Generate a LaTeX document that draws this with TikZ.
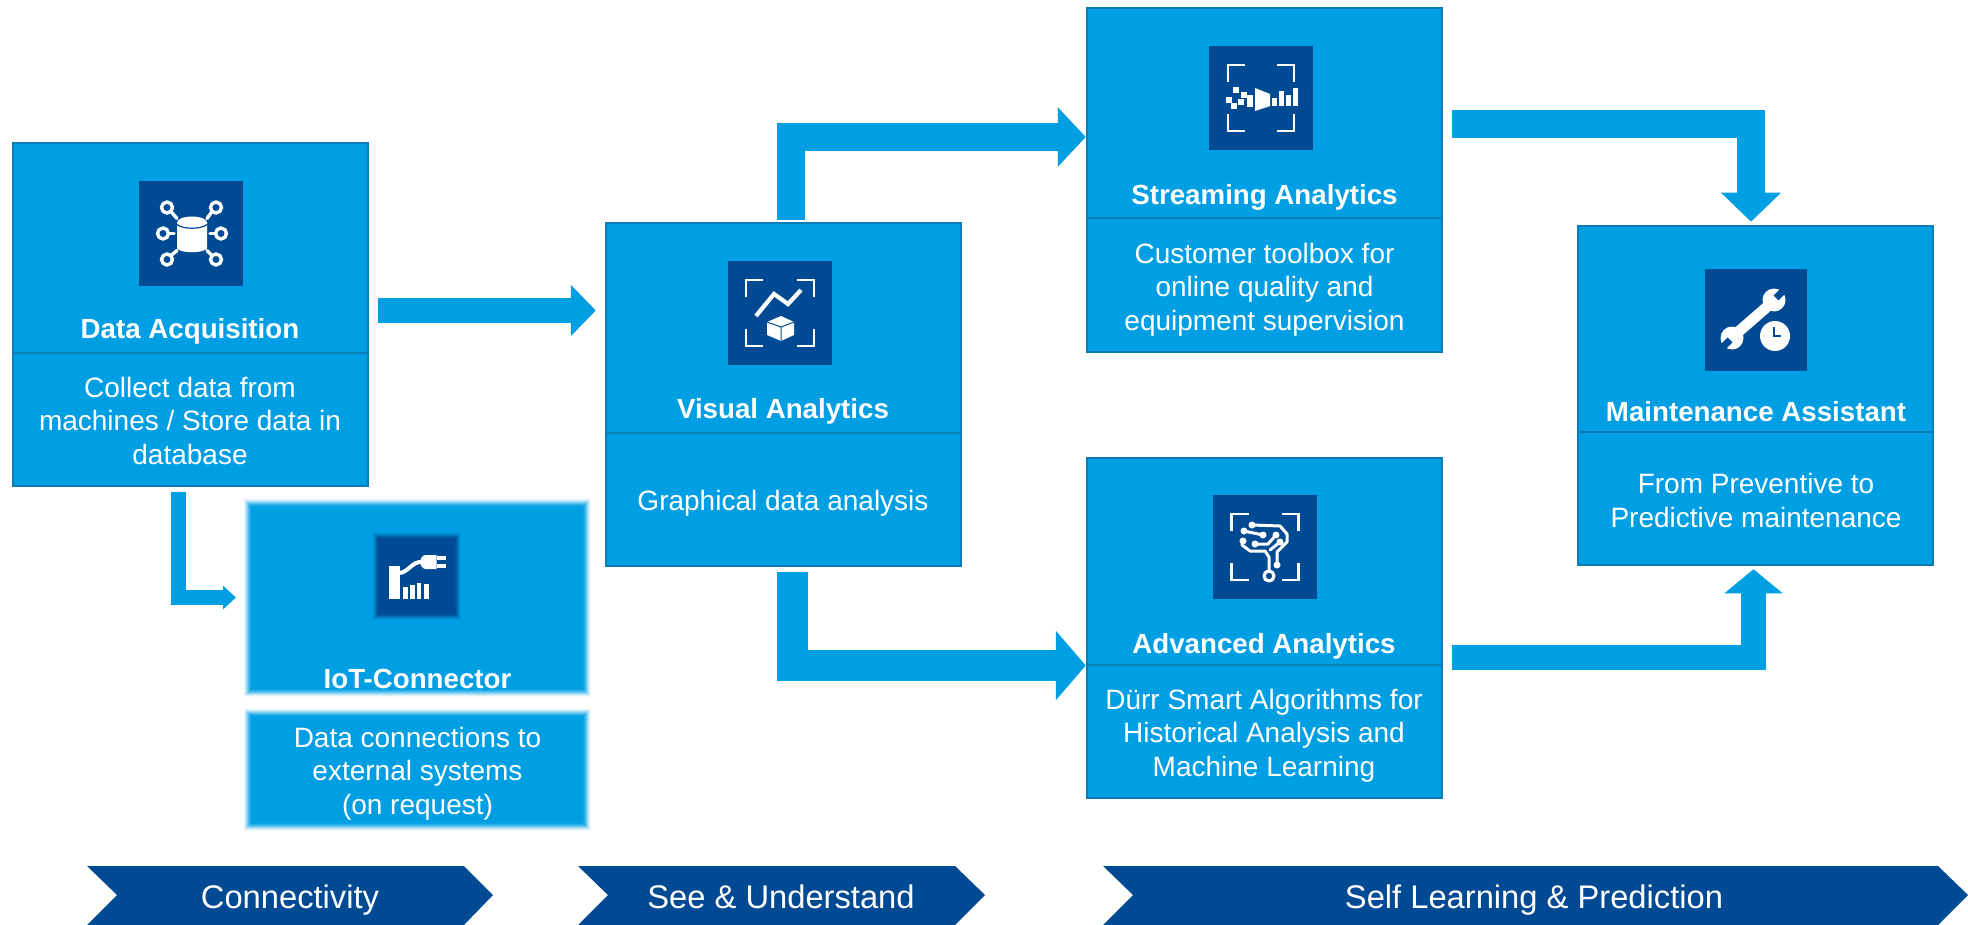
\documentclass[tikz,border=0pt]{standalone}
\usepackage{fontspec}
\setmainfont{Liberation Sans}
\usetikzlibrary{arrows.meta,calc}
\definecolor{ibox}{HTML}{009FE3}
\definecolor{idark}{HTML}{004A93}
\definecolor{iedge}{HTML}{0B7DB6}
\tikzset{
  mainbox/.style={draw=iedge,line width=.9pt,fill=ibox,minimum width=177.75pt,inner sep=0pt,outer sep=0pt},
  softbox/.style={fill=ibox,inner sep=0pt,outer sep=0pt},
  divider/.style={draw=iedge,line width=.9pt},
  iconbox/.style={fill=idark,inner sep=0pt,outer sep=0pt,minimum size=52pt},
  softicon/.style={fill=idark,inner sep=0pt,outer sep=0pt,minimum size=37.5pt},
  ttl/.style={font=\fontsize{13.85}{16.75}\selectfont\bfseries,text=white,anchor=base,inner sep=0pt},
  bodytxt/.style={font=\fontsize{14}{16.75}\selectfont,text=white,anchor=base,inner sep=0pt,align=center},
  chevtxt/.style={font=\fontsize{16.35}{18}\selectfont,text=white,anchor=base,inner sep=0pt},
  flow/.style={draw=ibox,line join=miter},
  ic/.style={draw=white,line width=1.7pt,line cap=round,line join=round},
  trace/.style={draw=white,line width=1.5pt,line cap=round,line join=round},
  brk/.style={draw=white,line width=1.25pt,line cap=butt,line join=miter},
}
\newcommand{\brackets}[2]{%
  \draw[brk] (-#1+17,-#2) -- (-#1,-#2) -- (-#1,-#2+17);
  \draw[brk] (#1-17,-#2) -- (#1,-#2) -- (#1,-#2+17);
  \draw[brk] (-#1+17,#2) -- (-#1,#2) -- (-#1,#2-17);
  \draw[brk] (#1-17,#2) -- (#1,#2) -- (#1,#2-17);
}
\begin{document}
\begin{tikzpicture}[x=0.5pt,y=-0.5pt]
\useasboundingbox (0,0) rectangle (1968,925);
\fill[white] (0,0) rectangle (1968,925);

% main boxes
\node[mainbox,minimum height=171.75pt] (da) at (190.5,314.5) {};
\node[mainbox,minimum height=171.75pt] (va) at (783.5,394.5) {};
\node[mainbox,minimum height=172.25pt] (sa) at (1264.5,180) {};
\node[mainbox,minimum height=170.25pt] (aa) at (1264.5,628) {};
\node[mainbox,minimum height=169.75pt] (ma) at (1755.5,395.5) {};
\draw[divider] ($(da.west)+(0,38.5)$) -- ($(da.east)+(0,38.5)$);
\draw[divider] ($(va.west)+(0,38.5)$) -- ($(va.east)+(0,38.5)$);
\draw[divider] ($(sa.west)+(0,38)$) -- ($(sa.east)+(0,38)$);
\draw[divider] ($(aa.west)+(0,37)$) -- ($(aa.east)+(0,37)$);
\draw[divider] ($(ma.west)+(0,36.5)$) -- ($(ma.east)+(0,36.5)$);

% blurred IoT boxes
\foreach \e [evaluate=\e as \c using {50-50*sin(\e*18)}] in {5,4.5,...,-5}{
  \fill[ibox!\c!white] (247-\e,502-\e) rectangle (587+\e,693+\e);
  \fill[ibox!\c!white] (247-\e,712-\e) rectangle (587+\e,827+\e);
}
\node[softbox,minimum width=165pt,minimum height=90.5pt] (it) at (417,597.5) {};
\node[softbox,minimum width=165pt,minimum height=52.5pt] (ib) at (417,769.5) {};

% icon tiles
\node[iconbox] (ic1) at (191,233.5) {};
\node[iconbox] (ic2) at (780,313) {};
\node[iconbox] (ic3) at (1261,98) {};
\node[iconbox] (ic4) at (1265,547) {};
\node[iconbox,minimum size=51pt] (ic5) at (1756,320) {};
\foreach \e [evaluate=\e as \c using {50-50*sin(\e*22.5)}] in {4,3.5,...,-4}{
  \fill[idark!\c!ibox] (375-\e,535-\e) rectangle (458+\e,617+\e);
}
\node[softicon] (ic6) at (416.5,576) {};

% icon 1: database
\begin{scope}[shift={(ic1.center)}]
  \fill[white] (-14,-11) -- (-14,15) .. controls (-10,20) and (12,20) .. (16,15) -- (16,-11) -- cycle;
  \fill[white] (1,-11) ellipse [x radius=15,y radius=6];
  \draw[idark,line width=.6pt] (-14,-9) .. controls (-8,-4) and (10,-4) .. (16,-9);
  \foreach \p/\q in {-24/-26,25/-26,-24/26,25/26}{
    \draw[ic] (\p,\q) circle [radius=5.5];
  }
  \draw[ic] (-28,0) circle [radius=5.5];
  \draw[ic] (30,0) circle [radius=5.5];
  \draw[ic] (-20,-22) -- (-14,-15);
  \draw[ic] (21,-22) -- (16,-15);
  \draw[ic] (-20,22) -- (-14,17);
  \draw[ic] (21,22) -- (16,17);
  \draw[ic] (-22,0) -- (-17,0);
  \draw[ic] (24,0) -- (19,0);
\end{scope}

% icon 2: chart and cube
\begin{scope}[shift={(ic2.center)}]
  \brackets{34}{33}
  \draw[ic,line width=2.1pt,line join=miter,line cap=butt] (-24,3) -- (-6,-19) -- (8,-9) -- (21,-23);
  \fill[white] (1,3) -- (14,9) -- (14,22) -- (1,28) -- (-13,22) -- (-13,9) -- cycle;
  \draw[idark,line width=.5pt] (-13,9) -- (1,14) -- (14,9) (1,14) -- (1,28);
\end{scope}

% icon 3: streaming
\begin{scope}[shift={(ic3.center)}]
  \brackets{33}{33}
  \foreach \p/\q in {-25/-8,-17/-3,-32/2,-11/0,-20/4,-27/8,-11/6}{
    \fill[white] (\p-2.7,\q-2.7) rectangle (\p+2.7,\q+2.7);
  }
  \fill[white] (-6,-10) -- (9,-4) -- (9,8) -- (-6,13) -- cycle;
  \fill[white] (11,0) rectangle (15.5,8);
  \fill[white] (18,-7) rectangle (23,8);
  \fill[white] (25,-3) rectangle (30,8);
  \fill[white] (32,-10) rectangle (37,8);
\end{scope}

% icon 4: circuit brain
\begin{scope}[shift={(ic4.center)}]
  \brackets{33.5}{33}
  \draw[trace] (-13,-22) -- (15,-21) -- (22,-13) -- (22,-5) -- (12,5) -- (12,18);
  \draw[trace] (-21,-16) -- (-2,-12);
  \draw[trace] (-22,-6) -- (-23,-2) -- (-15,4) -- (0,4) -- (4,10) -- (4,24);
  \draw[trace] (-10,-3) -- (3,-3) -- (11,-12);
  \draw[trace] (5,3) -- (15,-5);
  \foreach \p/\q in {-13/-22,-21/-16,-2/-12,-22/-6,-10/-3,11/-12,15/-5,12/18}{
    \fill[white] (\p,\q) circle [radius=3.5];
  }
  \draw[trace,line width=1.6pt] (4,29) circle [radius=5];
\end{scope}

% icon 5: wrench and clock
\begin{scope}[shift={(ic5.center)}]
  \draw[white,line width=5.4pt,line cap=butt] (12,-14) -- (-19,13);
  \fill[white] (18,-20) circle [radius=11.5];
  \fill[white] (-24,18) circle [radius=11.5];
  \draw[idark,line width=3.4pt,line cap=butt] (20,-22) -- (32,-34);
  \draw[idark,line width=3.4pt,line cap=butt] (-26,20) -- (-38,32);
  \fill[idark] (19,16) circle [radius=17];
  \fill[white] (19,16) circle [radius=15];
  \draw[idark,line width=.9pt,line join=miter] (18,7) -- (18,16) -- (25,16);
\end{scope}

% icon 6: plug and bars
\begin{scope}[shift={(ic6.center)}]
  \fill[white] (-28,-10) rectangle (-17,23);
  \draw[white,line width=2pt] (-18,-3) .. controls (-8,-3) and (-5,-15) .. (6,-14);
  \fill[white] (9,-21) -- (20,-21) -- (20,-7) -- (9,-7) .. controls (2,-8) and (2,-20) .. (9,-21) -- cycle;
  \fill[white] (20,-20) rectangle (29,-16);
  \fill[white] (20,-12) rectangle (29,-8);
  \fill[white] (-14,11) rectangle (-9,23);
  \fill[white] (-7,9) rectangle (-2,23);
  \fill[white] (0,7) rectangle (4,23);
  \fill[white] (7,8) rectangle (12,23);
\end{scope}

% titles and bodies
\node[ttl] (dat) at (190,338.5) {Data Acquisition};
\node[bodytxt] (dab) at (190,464) {Collect data from\\machines / Store data in\\database};
\node[ttl] (vat) at (783,418.5) {Visual Analytics};
\node[bodytxt] (vab) at (783,510) {Graphical data analysis};
\node[ttl] (sat) at (1264.5,204.5) {Streaming Analytics};
\node[bodytxt] (sab) at (1264.5,330) {Customer toolbox for\\online quality and\\equipment supervision};
\node[ttl] (aat) at (1264,653.5) {Advanced Analytics};
\node[bodytxt] (aab) at (1264,776) {Dürr Smart Algorithms for\\Historical Analysis and\\Machine Learning};
\node[ttl] (mat) at (1756,421.5) {Maintenance Assistant};
\node[bodytxt] (mab) at (1756,527) {From Preventive to\\Predictive maintenance};
\node[ttl] (itt) at (417.5,688.5) {IoT-Connector};
\node[bodytxt] (itb) at (417.5,814) {Data connections to\\external systems\\(on request)};

% connectors
\draw[flow,line width=12.5pt,-{Triangle[length=12.5pt,width=25pt]}]
  ($(da.east)+(10,-4)$) -- ($(va.west)+(-10,-84)$);
\draw[flow,line width=7.5pt,-{Triangle[length=6.5pt,width=11.5pt]}]
  ($(da.south)+(-12,6)$) |- ($(it.west)+(-16,0)$);
\draw[flow,line width=14pt,-{Triangle[length=14pt,width=29pt]}]
  ($(va.north)+(7.5,-3)$) |- ($(sa.west)+(-1,-43)$);
\draw[flow,line width=15.5pt,-{Triangle[length=15pt,width=34pt]}]
  ($(va.south)+(9,6)$) |- ($(aa.west)+(-1,37.5)$);
\draw[flow,line width=14pt,-{Triangle[length=14.5pt,width=29pt]}]
  ($(sa.east)+(10,-55.5)$) -| ($(ma.north)+(-4.5,-4)$);
\draw[flow,line width=12.5pt,-{Triangle[length=12pt,width=28.5pt]}]
  ($(aa.east)+(10,29.5)$) -| ($(ma.south)+(-2,4)$);

% phase chevrons
\fill[idark] (87,866) -- (464,866) -- (493,895) -- (464,925) -- (87,925) -- (117,895) -- cycle;
\fill[idark] (578,866) -- (955,866) -- (985,895) -- (955,925) -- (578,925) -- (608,895) -- cycle;
\fill[idark] (1103,866) -- (1938,866) -- (1968,895) -- (1938,925) -- (1103,925) -- (1133,895) -- cycle;
\node[chevtxt] (c1) at (290,908) {Connectivity};
\node[chevtxt] (c2) at (781,908) {See \& Understand};
\node[chevtxt] (c3) at (1534,908) {Self Learning \& Prediction};
\end{tikzpicture}
\end{document}
